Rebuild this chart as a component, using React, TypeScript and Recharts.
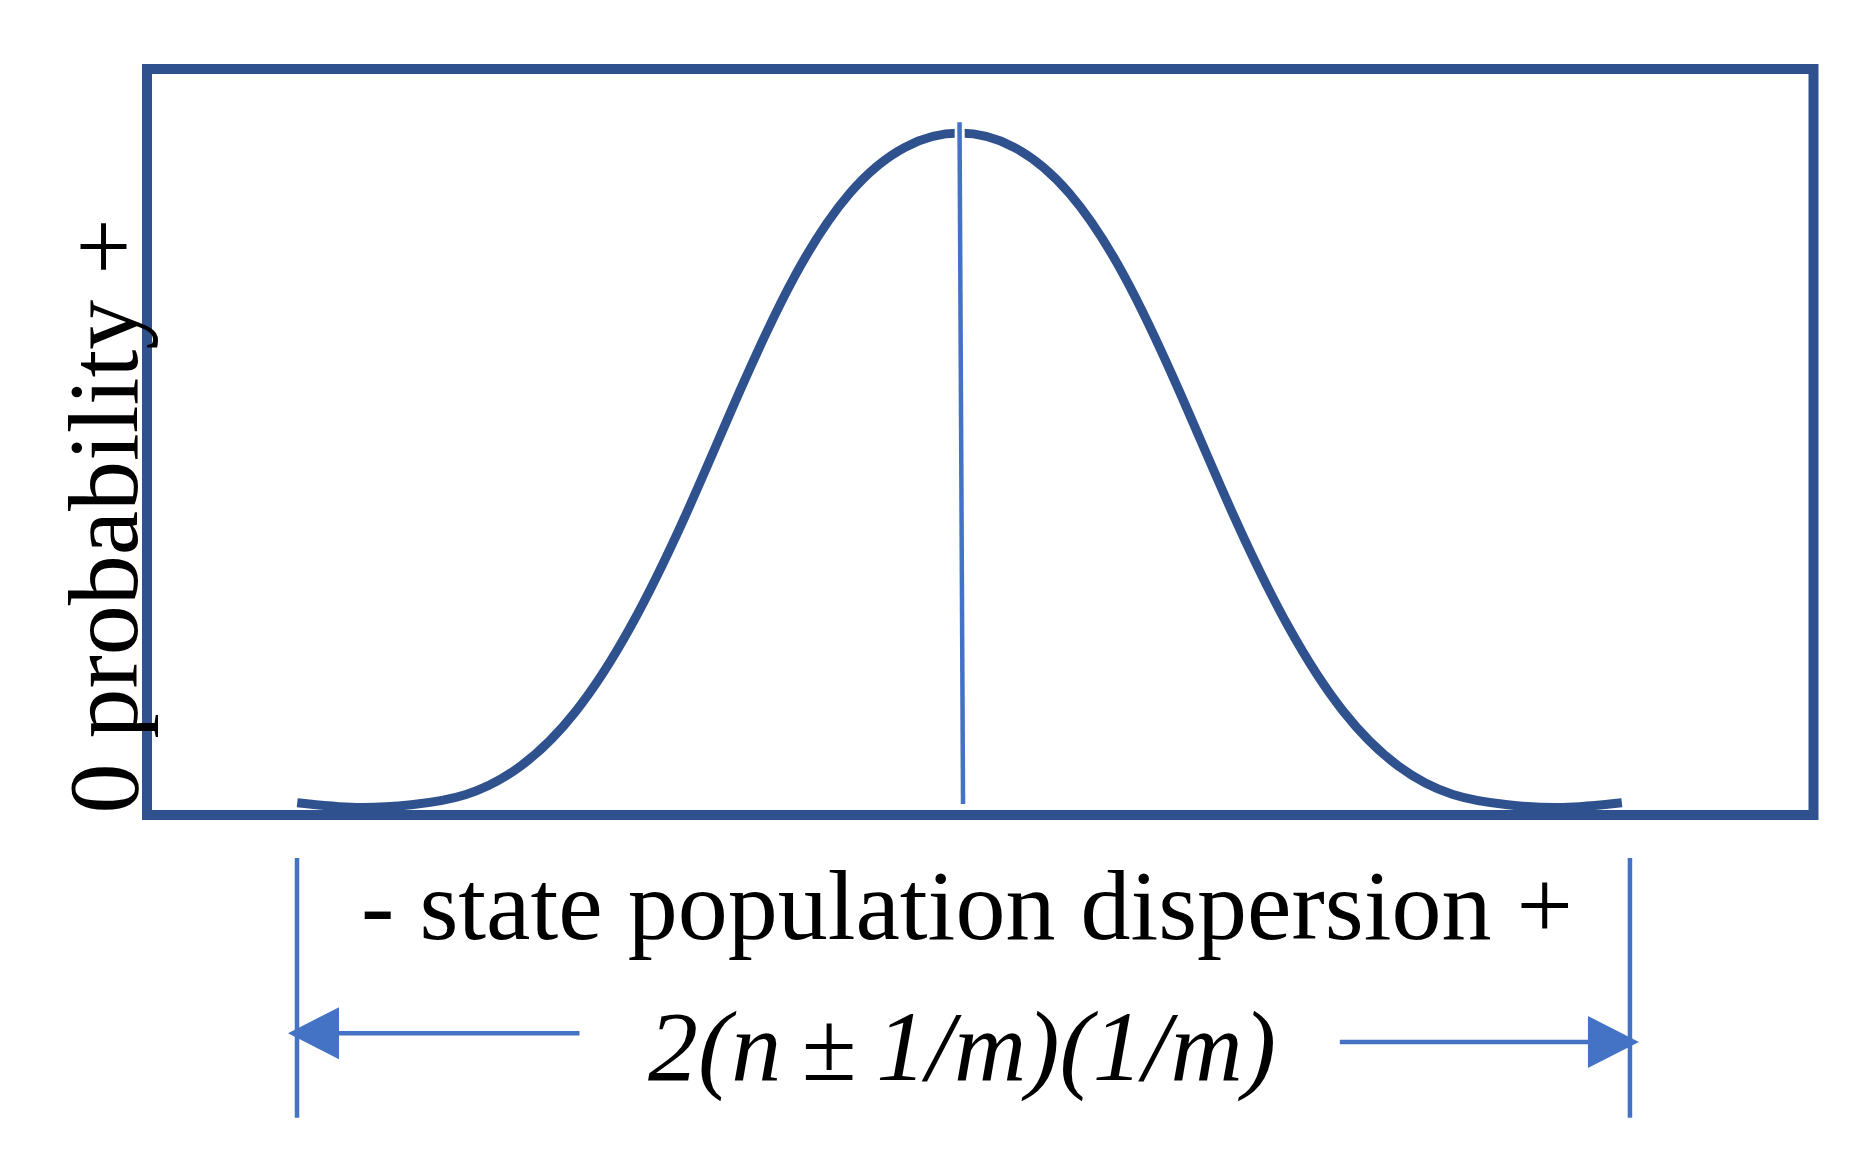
import {
  LineChart,
  Line,
  XAxis,
  YAxis,
  ReferenceArea,
  ReferenceLine,
  ReferenceDot,
} from 'recharts'

// dispersion in spread units, 0 = centre of the population
const dispersion = [
  -3.02, -2.75, -2.5, -2.25, -2, -1.75, -1.5, -1.25, -1, -0.75, -0.5, -0.25, 0,
  0.25, 0.5, 0.75, 1, 1.25, 1.5, 1.75, 2, 2.25, 2.5, 2.75, 3.02,
]
// relative probability (peak = 1)
const probability = [
  0.018, 0.011, 0.015, 0.03, 0.072, 0.152, 0.276, 0.439, 0.623, 0.791, 0.912, 0.979, 1,
  0.979, 0.912, 0.791, 0.623, 0.439, 0.276, 0.152, 0.072, 0.03, 0.015, 0.011, 0.018,
]

const xLabel = '- state population dispersion +'
const yLabel = '0 probability +'
const spanLabel = '2(n\u2009±\u20091/m)(1/m)'

const X_DOMAIN: [number, number] = [-3.705, 3.894]
const Y_DOMAIN: [number, number] = [0, 1.094]

// centre marker (slightly slanted in the original)
const centerX = [0, 0.016]
const centerY = [1.016, 0.016]

// span brackets and arrows below the plot
const bracketX = [-3.021, 3.057]
const bracketY = [-0.063, -0.444]
const arrowY = [-0.32, -0.333]
const arrowTip = [-3.062, 3.098]
const arrowTail = [-1.733, 1.734]

const DARK = '#2F528F'
const LIGHT = '#4472C4'
const FONT = "'Liberation Serif', 'Times New Roman', serif"

const data = dispersion.map((x, i) => ({ x, p: probability[i] }))

// eslint-disable-next-line @typescript-eslint/no-explicit-any
function XLabels(props: any) {
  const vb = props.viewBox ?? { x: 0, y: 0 }
  return (
    <g fontFamily={FONT} fontSize={100} fill="#000">
      <text x={vb.x + 820} y={vb.y + 124} textAnchor="middle">
        {xLabel}
      </text>
      <text x={vb.x + 815} y={vb.y + 265} textAnchor="middle" fontStyle="italic">
        {spanLabel}
      </text>
    </g>
  )
}

// eslint-disable-next-line @typescript-eslint/no-explicit-any
function YLabel(props: any) {
  const vb = props.viewBox ?? { x: 0, y: 0 }
  const cx = vb.x + 137
  const cy = vb.y + 447
  return (
    <text
      x={cx}
      y={cy}
      transform={`rotate(-90 ${cx} ${cy})`}
      textAnchor="middle"
      fontFamily={FONT}
      fontSize={100}
      fill="#000"
    >
      {yLabel}
    </text>
  )
}

// eslint-disable-next-line @typescript-eslint/no-explicit-any
function ArrowHead(props: any) {
  const { cx, cy, dir } = props
  if (cx == null || cy == null) return null
  const b = cx - dir * 51
  return <polygon points={`${cx},${cy} ${b},${cy - 26} ${b},${cy + 26}`} fill={LIGHT} />
}

export default function App() {
  return (
    <div style={{ position: 'absolute', left: 0, top: 0, width: 1859, height: 1157, background: '#fff', overflow: 'hidden' }}>
      <LineChart width={1859} height={1157} data={data} margin={{ top: 69, right: 45.5, bottom: 0, left: 0 }}>
        <XAxis
          type="number"
          dataKey="x"
          domain={X_DOMAIN}
          allowDataOverflow
          height={342}
          axisLine={false}
          tickLine={false}
          tick={false}
          label={{ content: XLabels }}
        />
        <YAxis
          type="number"
          domain={Y_DOMAIN}
          allowDataOverflow
          width={147}
          axisLine={false}
          tickLine={false}
          tick={false}
          label={{ content: YLabel }}
        />
        <ReferenceArea
          x1={X_DOMAIN[0]}
          x2={X_DOMAIN[1]}
          y1={Y_DOMAIN[0]}
          y2={Y_DOMAIN[1]}
          fill="none"
          fillOpacity={0}
          stroke={DARK}
          strokeWidth={10}
          ifOverflow="visible"
        />
        <Line
          type="natural"
          dataKey="p"
          stroke={DARK}
          strokeWidth={9}
          dot={false}
          activeDot={false}
          isAnimationActive={false}
        />
        <ReferenceLine
          segment={[
            { x: centerX[0], y: centerY[0] + 0.02 },
            { x: centerX[0] + 0.002, y: centerY[0] - 0.08 },
          ]}
          stroke="#fff"
          strokeWidth={10}
          ifOverflow="visible"
        />
        <ReferenceLine
          segment={[
            { x: centerX[0], y: centerY[0] },
            { x: centerX[1], y: centerY[1] },
          ]}
          stroke={LIGHT}
          strokeWidth={4.5}
          ifOverflow="visible"
        />
        {bracketX.map((bx, i) => (
          <ReferenceLine
            key={`br-${i}`}
            segment={[
              { x: bx, y: bracketY[0] },
              { x: bx, y: bracketY[1] },
            ]}
            stroke={LIGHT}
            strokeWidth={4.5}
            ifOverflow="visible"
          />
        ))}
        {arrowTip.map((tip, i) => (
          <ReferenceLine
            key={`ar-${i}`}
            segment={[
              { x: tip * 0.96, y: arrowY[i] },
              { x: arrowTail[i], y: arrowY[i] },
            ]}
            stroke={LIGHT}
            strokeWidth={4.5}
            ifOverflow="visible"
          />
        ))}
        {arrowTip.map((tip, i) => (
          <ReferenceDot
            key={`ah-${i}`}
            x={tip}
            y={arrowY[i]}
            r={0}
            ifOverflow="visible"
            shape={(p: any) => <ArrowHead {...p} dir={i === 0 ? -1 : 1} />}
          />
        ))}
      </LineChart>
    </div>
  )
}
